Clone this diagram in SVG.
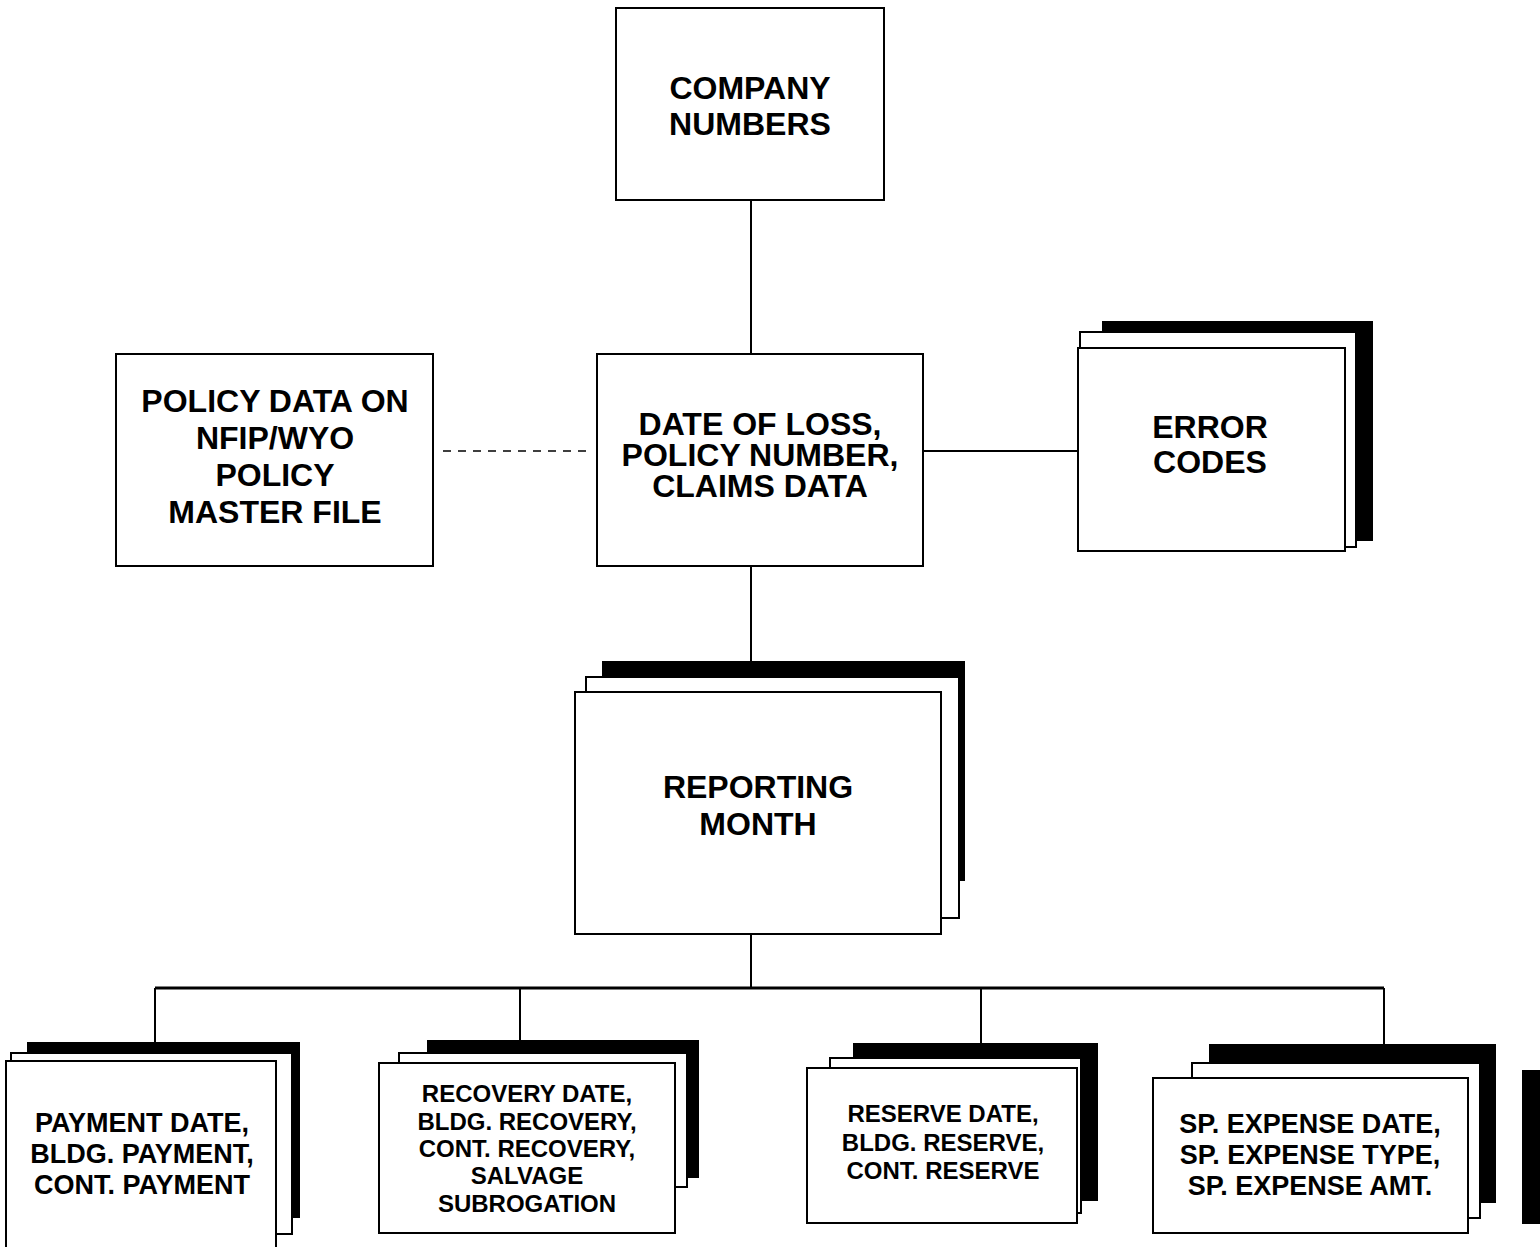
<svg xmlns="http://www.w3.org/2000/svg" width="1540" height="1247" viewBox="0 0 1540 1247">
<style>
.bg{fill:#fff}
.box{fill:#fff;stroke:#000;stroke-width:2}
.back{fill:#000;stroke:#000;stroke-width:2}
.ln{fill:none;stroke:#000;stroke-width:2}
.bus{fill:none;stroke:#000;stroke-width:3}
.dash{fill:none;stroke:#000;stroke-width:1.5;stroke-dasharray:8 7}
.t{font-family:"Liberation Sans",Arial,"DejaVu Sans",sans-serif;font-weight:bold;text-anchor:middle;fill:#000}
.L{font-size:32px}
.M{font-size:27px}
.S{font-size:24px}
</style>
<rect class="bg" x="0" y="0" width="1540" height="1247"/>
<g id="connectors">
<path class="ln" d="M751 200 V354"/>
<path class="dash" d="M443 451 H590"/>
<path class="ln" d="M923 451 H1078"/>
<path class="ln" d="M751 566 V662"/>
<path class="ln" d="M751 934 V988"/>
<path class="bus" d="M155 988 H1384"/>
<path class="ln" d="M155 988 V1043"/>
<path class="ln" d="M520 988 V1041"/>
<path class="ln" d="M981 988 V1044"/>
<path class="ln" d="M1384 988 V1045"/>
</g>
<g id="company-numbers">
<rect class="box" x="616" y="8" width="268" height="192"/>
<text class="t L" x="750" y="99">COMPANY</text>
<text class="t L" x="750" y="135">NUMBERS</text>
</g>
<g id="policy-data">
<rect class="box" x="116" y="354" width="317" height="212"/>
<text class="t L" x="275" y="412">POLICY DATA ON</text>
<text class="t L" x="275" y="449">NFIP/WYO</text>
<text class="t L" x="275" y="486">POLICY</text>
<text class="t L" x="275" y="523">MASTER FILE</text>
</g>
<g id="date-of-loss">
<rect class="box" x="597" y="354" width="326" height="212"/>
<text class="t L" x="760" y="435">DATE OF LOSS,</text>
<text class="t L" x="760" y="466">POLICY NUMBER,</text>
<text class="t L" x="760" y="497">CLAIMS DATA</text>
</g>
<g id="error-codes">
<rect class="back" x="1103" y="322" width="269" height="218"/>
<rect class="box" x="1080" y="332" width="276" height="215"/>
<rect class="box" x="1078" y="348" width="267" height="203"/>
<text class="t L" x="1210" y="438">ERROR</text>
<text class="t L" x="1210" y="473">CODES</text>
</g>
<g id="reporting-month">
<rect class="back" x="603" y="662" width="361" height="218"/>
<rect class="box" x="586" y="677" width="373" height="241"/>
<rect class="box" x="575" y="692" width="366" height="242"/>
<text class="t L" x="758" y="798">REPORTING</text>
<text class="t L" x="758" y="835">MONTH</text>
</g>
<g id="payment">
<rect class="back" x="28" y="1043" width="271" height="174"/>
<rect class="box" x="11" y="1053" width="281" height="181"/>
<rect class="box" x="6" y="1061" width="270" height="195"/>
<text class="t M" x="142" y="1132">PAYMENT DATE,</text>
<text class="t M" x="142" y="1163">BLDG. PAYMENT,</text>
<text class="t M" x="142" y="1194">CONT. PAYMENT</text>
</g>
<g id="recovery">
<rect class="back" x="428" y="1041" width="270" height="136"/>
<rect class="box" x="399" y="1053" width="288" height="134"/>
<rect class="box" x="379" y="1063" width="296" height="170"/>
<text class="t S" x="527" y="1102">RECOVERY DATE,</text>
<text class="t S" x="527" y="1130">BLDG. RECOVERY,</text>
<text class="t S" x="527" y="1157">CONT. RECOVERY,</text>
<text class="t S" x="527" y="1184">SALVAGE</text>
<text class="t S" x="527" y="1212">SUBROGATION</text>
</g>
<g id="reserve">
<rect class="back" x="854" y="1044" width="243" height="156"/>
<rect class="box" x="830" y="1058" width="251" height="155"/>
<rect class="box" x="807" y="1068" width="270" height="155"/>
<text class="t S" x="943" y="1122">RESERVE DATE,</text>
<text class="t S" x="943" y="1151">BLDG. RESERVE,</text>
<text class="t S" x="943" y="1179">CONT. RESERVE</text>
</g>
<g id="sp-expense">
<rect class="back" x="1210" y="1045" width="285" height="157"/>
<rect class="box" x="1192" y="1063" width="288" height="155"/>
<rect class="box" x="1153" y="1078" width="315" height="155"/>
<text class="t M" x="1310" y="1133">SP. EXPENSE DATE,</text>
<text class="t M" x="1310" y="1164">SP. EXPENSE TYPE,</text>
<text class="t M" x="1310" y="1195">SP. EXPENSE AMT.</text>
</g>
<g id="edge-bar">
<rect class="back" x="1523" y="1071" width="20" height="152"/>
</g>
</svg>
